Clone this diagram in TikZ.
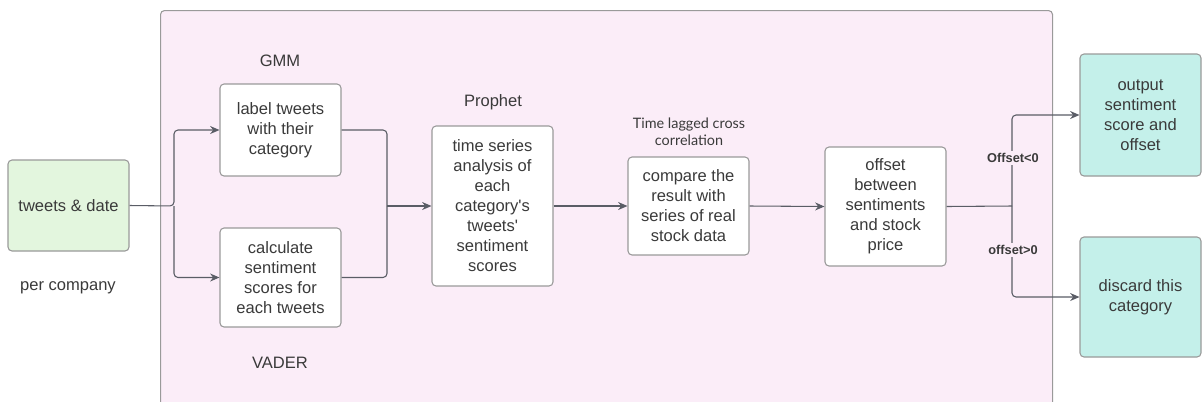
\documentclass[tikz,border=0pt]{standalone}
\usepackage{fontspec}
\setmainfont{Liberation Sans}
\newfontfamily\latofont{Lato}
\usetikzlibrary{arrows.meta}
\definecolor{pinkbg}{HTML}{FBEDF8}
\definecolor{greenbg}{HTML}{E3F6DE}
\definecolor{tealbg}{HTML}{C4F0EA}
\definecolor{edge}{HTML}{9A9A9A}
\definecolor{ink}{HTML}{3A3A3A}
\definecolor{arrowc}{HTML}{5A5D66}
\tikzset{
  box/.style={draw=edge, line width=0.8pt, rounded corners=3pt, fill=white, align=center,
    text=ink, inner sep=0pt, font=\fontsize{12.4}{15}\selectfont},
  lab/.style={text=ink, font=\fontsize{12.4}{15}\selectfont, align=center},
  conn/.style={draw=arrowc, line width=0.8pt, rounded corners=3pt},
  arr/.style={conn, -{Stealth[length=7pt,width=6pt]}},
  cond/.style={text=ink, fill=pinkbg, inner sep=1.5pt, font=\bfseries\fontsize{9.6}{11}\selectfont},
}
\begin{document}
\begin{tikzpicture}[x=0.75pt,y=-0.75pt]
\useasboundingbox (0,0) rectangle (1203,401);
\fill[white] (0,0) rectangle (1203,401);
\node[draw=edge, line width=0.8pt, rounded corners=3pt, fill=pinkbg, minimum width=892*0.75pt, minimum height=420*0.75pt, anchor=north west] (frame) at (160,10) {};
% nodes
\node[box, fill=greenbg, minimum width=121*0.75pt, minimum height=91*0.75pt] (tw) at (68.5,205.5) {tweets \& date};
\node[lab] (pc) at (68,288) {per company};
\node[box, minimum width=121*0.75pt, minimum height=92*0.75pt] (lt) at (280.5,130) {label tweets\\with their\\category};
\node[box, minimum width=121*0.75pt, minimum height=99*0.75pt] (cs) at (280.5,277.5) {calculate\\sentiment\\scores for\\each tweets};
\node[lab] (gmm) at (280,61) {GMM};
\node[lab] (vader) at (280,363) {VADER};
\node[box, minimum width=121*0.75pt, minimum height=160*0.75pt] (pr) at (492.5,206) {time series\\analysis of\\each\\category\textquotesingle s\\tweets\textquotesingle\\sentiment\\scores};
\node[lab] (prl) at (493,102) {Prophet};
\node[box, minimum width=121*0.75pt, minimum height=98*0.75pt] (cmp) at (688.5,206) {compare the\\result with\\series of real\\stock data};
\node[text=ink, align=center, font=\latofont\fontsize{10.8}{12.5}\selectfont] (tl) at (689,132) {Time lagged cross\\correlation};
\node[box, minimum width=121*0.75pt, minimum height=119*0.75pt] (off) at (885.5,206.5) {offset\\between\\sentiments\\and stock\\price};
\node[box, fill=tealbg, minimum width=121*0.75pt, minimum height=122*0.75pt] (out) at (1140.5,115) {output\\sentiment\\score and\\offset};
\node[box, fill=tealbg, minimum width=121*0.75pt, minimum height=120*0.75pt] (dis) at (1140.5,297) {discard this\\category};
% coordinates
\coordinate (s1) at (174,206);
\coordinate (m1) at (387,206);
\coordinate (s2) at (1012,206);
% connectors
\draw[arr] (tw.east) -- (s1) |- (lt.west);
\draw[arr] (s1) |- (cs.west);
\draw[conn] (lt.east) -| (m1);
\draw[conn] (cs.east) -| (m1);
\draw[arr] (m1) -- (pr.west);
\draw[arr] (pr.east) -- (cmp.west);
\draw[arr] (cmp.east) -- (off.west);
\draw[conn] (off.east) -- (s2);
\draw[arr] (s2) |- (out.west);
\draw[arr] (s2) |- (dis.west);
\node[cond] (c1) at (1013,158) {Offset<0};
\node[cond] (c2) at (1013,250) {offset>0};
\end{tikzpicture}
\end{document}
